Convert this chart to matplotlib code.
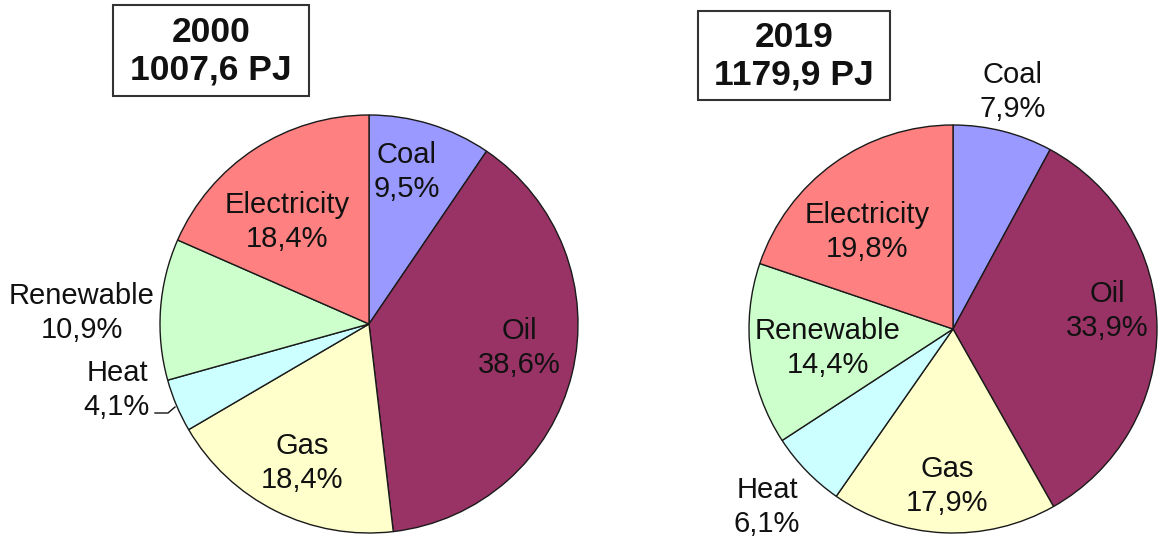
import matplotlib.pyplot as plt
from matplotlib.patches import Rectangle

plt.rcParams['font.family'] = ['Liberation Sans', 'DejaVu Sans']

# data
categories = ["Coal", "Oil", "Gas", "Heat", "Renewable", "Electricity"]
colors = ["#9999FF", "#993366", "#FFFFCC", "#CCFFFF", "#CCFFCC", "#FF8080"]
share_2000 = [9.5, 38.6, 18.4, 4.1, 10.9, 18.4]
share_2019 = [7.9, 33.9, 17.9, 6.1, 14.4, 19.8]
titles = ["2000\n1007,6 PJ", "2019\n1179,9 PJ"]

W, H = 1161, 541
fig = plt.figure(figsize=(W / 100, H / 100), dpi=100)
ax = fig.add_axes([0, 0, 1, 1])

def py(y):
	# picture rows run downwards, data y upwards
	return H - y

def drawPie(values, cx, cy, r, label_pos, title, box):
	ax.pie(values, colors=colors, startangle=90, counterclock=False,
		center=(cx, py(cy)), radius=r,
		wedgeprops=dict(edgecolor="#1a1a1a", linewidth=1.0))
	for name, v, (lx, ly) in zip(categories, values, label_pos):
		txt = name + "\n" + ("%.1f%%" % v).replace(".", ",")
		ax.text(lx, py(ly), txt, ha="center", va="center", fontsize=21,
			linespacing=1.27, color="#111111")
	x0, y0, x1, y1 = box
	ax.add_patch(Rectangle((x0, py(y1)), x1 - x0, y1 - y0, facecolor="white",
		edgecolor="#333333", linewidth=1.5))
	ax.text((x0 + x1) / 2, py((y0 + y1) / 2 + 1), title, ha="center", va="center",
		fontsize=25.5, fontweight="bold", linespacing=1.17, color="#111111")

drawPie(share_2000, 369, 324, 209,
	[(407, 172), (519, 348), (302, 463), (117, 390), (82, 313), (287, 222)],
	titles[0], (113, 5, 309, 96))
drawPie(share_2019, 953, 329, 204,
	[(1013, 92), (1107, 311), (947, 486), (767, 507), (828, 348), (867, 232)],
	titles[1], (698, 11, 890, 100))

# small leader line for the Heat label of 2000
ax.plot([155, 168, 175], [py(413), py(413), py(407)], color="#111111", lw=1)

ax.set_xlim(0, W)
ax.set_ylim(0, H)
ax.set_aspect("auto")
ax.axis("off")

fig.savefig("out.png", dpi=100, facecolor="white")
